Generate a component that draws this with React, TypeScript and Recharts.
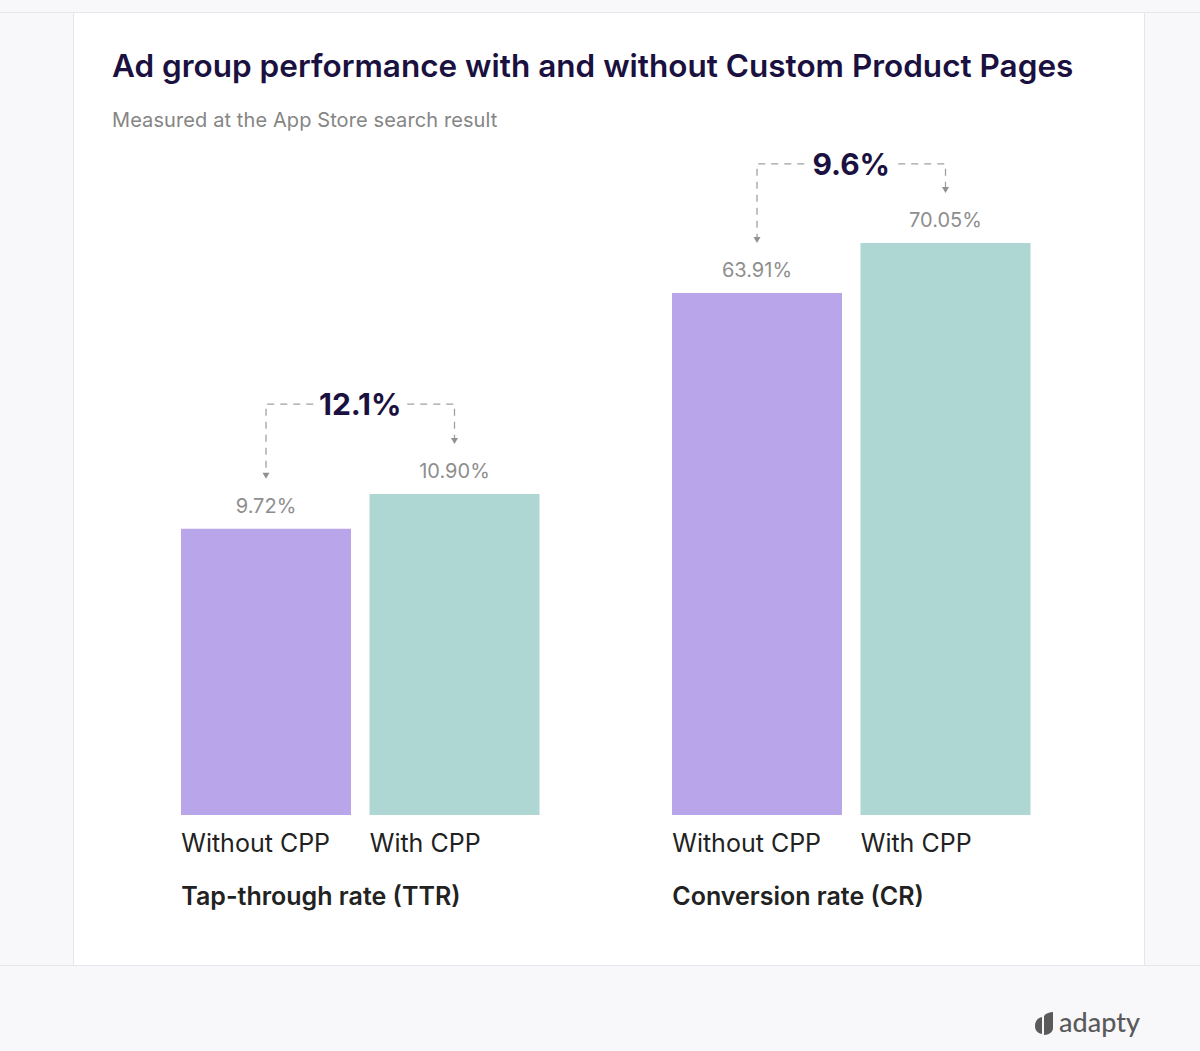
import { BarChart, Bar, XAxis, YAxis, Cell, LabelList, Label } from 'recharts';

const categories = ['Without CPP', 'With CPP'];
const ttrValues = [9.72, 10.9];
const crValues = [63.91, 70.05];
const groupTitles = ['Tap-through rate (TTR)', 'Conversion rate (CR)'];

const BAR_COLORS = ['#b9a6ea', '#aed7d3'];
const FONT = 'Inter, "Noto Sans", sans-serif';
const BAND = 188.5;
const BAR_SIZE = 170;
const PLOT_H = 635;

interface GroupProps {
  values: number[];
  title: string;
  yMax: number;
  left: number;
  bracketOffset: number;
}

function BarGroup({ values, title, yMax, left, bracketOffset }: GroupProps) {
  const data = categories.map((name, i) => ({ name, value: values[i] }));
  const maxV = Math.max(...values);
  const lift = ((values[1] / values[0] - 1) * 100).toFixed(1) + '%';

  const renderLabel = (props: any) => {
    const { x, y, width, height, value, index } = props;
    const cx = x + width / 2;
    const bottom = y + height;
    const perUnit = height / value;
    const topY = bottom - maxV * perUnit - bracketOffset;
    const tipY = y - 50;
    const mid = index === 0 ? cx + BAND / 2 : cx - BAND / 2;
    const hEnd = index === 0 ? mid - 47 : mid + 47;
    return (
      <g>
        <text x={cx} y={y - 16} textAnchor="middle" fontSize={20} fill="#8e8e8e" fontFamily={FONT}>
          {Number(value).toFixed(2)}%
        </text>
        <path
          d={`M${hEnd},${topY} L${cx},${topY} L${cx},${tipY - 5}`}
          fill="none"
          stroke="#a0a0a0"
          strokeWidth={1.3}
          strokeDasharray="7 6"
        />
        <path d={`M${cx - 3.5},${tipY - 6} L${cx + 3.5},${tipY - 6} L${cx},${tipY} Z`} fill="#909090" />
        {index === 0 && (
          <text
            x={mid}
            y={topY + 11}
            textAnchor="middle"
            fontSize={30}
            fontWeight={700}
            fill="#1b1140"
            fontFamily={FONT}
          >
            {lift}
          </text>
        )}
      </g>
    );
  };

  const renderTick = (props: any) => {
    const { x, y, payload } = props;
    return (
      <text x={x - BAR_SIZE / 2} y={y + 37} textAnchor="start" fontSize={25} fill="#222222" fontFamily={FONT}>
        {payload.value}
      </text>
    );
  };

  return (
    <div style={{ position: 'absolute', left, top: 140 }}>
      <BarChart
        width={BAND * 2}
        height={40 + PLOT_H + 110}
        data={data}
        margin={{ top: 40, right: 0, bottom: 0, left: 0 }}
        style={{ overflow: 'visible' }}
      >
        <YAxis hide domain={[0, yMax]} />
        <XAxis
          dataKey="name"
          axisLine={false}
          tickLine={false}
          tickSize={0}
          tickMargin={0}
          height={110}
          interval={0}
          tick={renderTick}
        >
          <Label
            content={(p: any) => {
              const vb = p.viewBox;
              return (
                <text
                  x={vb.x + (BAND - BAR_SIZE) / 2}
                  y={vb.y + 90}
                  fontSize={25}
                  fontWeight={600}
                  fill="#222222"
                  fontFamily={FONT}
                >
                  {title}
                </text>
              );
            }}
          />
        </XAxis>
        <Bar dataKey="value" barSize={BAR_SIZE} isAnimationActive={false}>
          {data.map((d, i) => (
            <Cell key={d.name} fill={BAR_COLORS[i]} />
          ))}
          <LabelList dataKey="value" content={renderLabel} />
        </Bar>
      </BarChart>
    </div>
  );
}

function Logo() {
  return (
    <div style={{ position: 'absolute', left: 1035, top: 1011, display: 'flex', alignItems: 'center' }}>
      <svg width={22} height={24} viewBox="0 0 22 24">
        <path d="M7,5 C2,6 0,10 0,14 C0,18 2,21 7,22 Z" fill="#5a5a5a" />
        <path d="M9,4 C11,1 15,0 18,0 L18,16 C18,20 14,23 9,23 Z" fill="#5a5a5a" />
      </svg>
      <span
        style={{
          fontFamily: 'Lato, "Noto Sans", sans-serif',
          fontSize: 27,
          fontWeight: 500,
          color: '#5a5a5a',
          marginLeft: 2,
          lineHeight: '30px',
          marginTop: -4,
        }}
      >
        adapty
      </span>
    </div>
  );
}

export default function App() {
  return (
    <div
      style={{
        position: 'absolute',
        left: 0,
        top: 0,
        width: 1200,
        height: 1051,
        background: '#f8f8fa',
        overflow: 'hidden',
        fontFamily: FONT,
      }}
    >
      <div style={{ position: 'absolute', left: 0, top: 12, width: 1200, height: 1, background: '#e7e7eb' }} />
      <div style={{ position: 'absolute', left: 0, top: 965, width: 1200, height: 1, background: '#e7e7eb' }} />
      <div
        style={{
          position: 'absolute',
          left: 73,
          top: 13,
          width: 1070,
          height: 952,
          background: '#ffffff',
          borderLeft: '1px solid #e7e7eb',
          borderRight: '1px solid #e7e7eb',
        }}
      />
      <div
        style={{
          position: 'absolute',
          left: 112,
          top: 50,
          fontSize: 31.5,
          lineHeight: '32px',
          fontWeight: 600,
          color: '#1b1140',
          whiteSpace: 'nowrap',
        }}
      >
        Ad group performance with and without Custom Product Pages
      </div>
      <div
        style={{
          position: 'absolute',
          left: 112,
          top: 110,
          fontSize: 20,
          lineHeight: '20px',
          color: '#858585',
          whiteSpace: 'nowrap',
          letterSpacing: 0.1,
        }}
      >
        Measured at the App Store search result
      </div>
      <BarGroup values={ttrValues} title={groupTitles[0]} yMax={21.57} left={171.5} bracketOffset={90} />
      <BarGroup values={crValues} title={groupTitles[1]} yMax={77.75} left={663.25} bracketOffset={79} />
      <Logo />
    </div>
  );
}
